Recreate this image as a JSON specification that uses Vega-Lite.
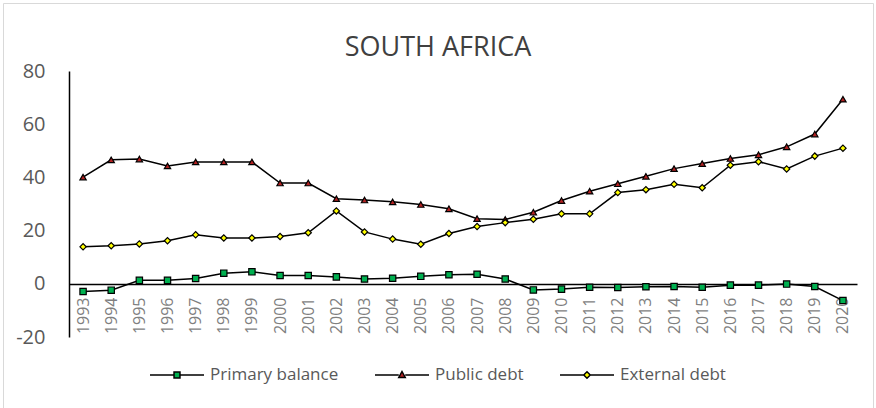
{
  "$schema": "https://vega.github.io/schema/vega-lite/v6.json",
  "width": 870,
  "height": 405,
  "autosize": {"type": "none"},
  "padding": {"left": 3, "top": 3, "right": 3, "bottom": 0},
  "background": "white",
  "config": {"view": {"stroke": "#d9d9d9", "strokeWidth": 1}, "font": "Open Sans"},
  "title": {"text": "SOUTH AFRICA", "anchor": "middle", "frame": "group", "orient": "top", "baseline": "top", "offset": 0, "dy": 59, "fontSize": 27, "font": "Open Sans", "fontWeight": "normal", "color": "#404040"},
  "data": {"values": [
    {"year": "1993", "series": "Primary balance", "value": -2.9},
    {"year": "1994", "series": "Primary balance", "value": -2.4},
    {"year": "1995", "series": "Primary balance", "value": 1.3},
    {"year": "1996", "series": "Primary balance", "value": 1.3},
    {"year": "1997", "series": "Primary balance", "value": 2.0},
    {"year": "1998", "series": "Primary balance", "value": 4.0},
    {"year": "1999", "series": "Primary balance", "value": 4.5},
    {"year": "2000", "series": "Primary balance", "value": 3.1},
    {"year": "2001", "series": "Primary balance", "value": 3.1},
    {"year": "2002", "series": "Primary balance", "value": 2.6},
    {"year": "2003", "series": "Primary balance", "value": 1.8},
    {"year": "2004", "series": "Primary balance", "value": 2.1},
    {"year": "2005", "series": "Primary balance", "value": 2.8},
    {"year": "2006", "series": "Primary balance", "value": 3.4},
    {"year": "2007", "series": "Primary balance", "value": 3.6},
    {"year": "2008", "series": "Primary balance", "value": 1.8},
    {"year": "2009", "series": "Primary balance", "value": -2.3},
    {"year": "2010", "series": "Primary balance", "value": -2.0},
    {"year": "2011", "series": "Primary balance", "value": -1.3},
    {"year": "2012", "series": "Primary balance", "value": -1.4},
    {"year": "2013", "series": "Primary balance", "value": -1.1},
    {"year": "2014", "series": "Primary balance", "value": -1.0},
    {"year": "2015", "series": "Primary balance", "value": -1.3},
    {"year": "2016", "series": "Primary balance", "value": -0.5},
    {"year": "2017", "series": "Primary balance", "value": -0.5},
    {"year": "2018", "series": "Primary balance", "value": -0.1},
    {"year": "2019", "series": "Primary balance", "value": -1.0},
    {"year": "2020", "series": "Primary balance", "value": -6.3},
    {"year": "1993", "series": "Public debt", "value": 40.1},
    {"year": "1994", "series": "Public debt", "value": 46.6},
    {"year": "1995", "series": "Public debt", "value": 46.9},
    {"year": "1996", "series": "Public debt", "value": 44.3},
    {"year": "1997", "series": "Public debt", "value": 45.8},
    {"year": "1998", "series": "Public debt", "value": 45.8},
    {"year": "1999", "series": "Public debt", "value": 45.8},
    {"year": "2000", "series": "Public debt", "value": 37.9},
    {"year": "2001", "series": "Public debt", "value": 37.9},
    {"year": "2002", "series": "Public debt", "value": 32.0},
    {"year": "2003", "series": "Public debt", "value": 31.5},
    {"year": "2004", "series": "Public debt", "value": 30.8},
    {"year": "2005", "series": "Public debt", "value": 29.8},
    {"year": "2006", "series": "Public debt", "value": 28.2},
    {"year": "2007", "series": "Public debt", "value": 24.5},
    {"year": "2008", "series": "Public debt", "value": 24.2},
    {"year": "2009", "series": "Public debt", "value": 26.9},
    {"year": "2010", "series": "Public debt", "value": 31.3},
    {"year": "2011", "series": "Public debt", "value": 34.8},
    {"year": "2012", "series": "Public debt", "value": 37.6},
    {"year": "2013", "series": "Public debt", "value": 40.4},
    {"year": "2014", "series": "Public debt", "value": 43.3},
    {"year": "2015", "series": "Public debt", "value": 45.2},
    {"year": "2016", "series": "Public debt", "value": 47.1},
    {"year": "2017", "series": "Public debt", "value": 48.5},
    {"year": "2018", "series": "Public debt", "value": 51.5},
    {"year": "2019", "series": "Public debt", "value": 56.3},
    {"year": "2020", "series": "Public debt", "value": 69.4},
    {"year": "1993", "series": "External debt", "value": 13.9},
    {"year": "1994", "series": "External debt", "value": 14.3},
    {"year": "1995", "series": "External debt", "value": 15.0},
    {"year": "1996", "series": "External debt", "value": 16.2},
    {"year": "1997", "series": "External debt", "value": 18.4},
    {"year": "1998", "series": "External debt", "value": 17.2},
    {"year": "1999", "series": "External debt", "value": 17.2},
    {"year": "2000", "series": "External debt", "value": 17.8},
    {"year": "2001", "series": "External debt", "value": 19.2},
    {"year": "2002", "series": "External debt", "value": 27.4},
    {"year": "2003", "series": "External debt", "value": 19.5},
    {"year": "2004", "series": "External debt", "value": 16.8},
    {"year": "2005", "series": "External debt", "value": 14.9},
    {"year": "2006", "series": "External debt", "value": 18.9},
    {"year": "2007", "series": "External debt", "value": 21.5},
    {"year": "2008", "series": "External debt", "value": 23.0},
    {"year": "2009", "series": "External debt", "value": 24.3},
    {"year": "2010", "series": "External debt", "value": 26.3},
    {"year": "2011", "series": "External debt", "value": 26.3},
    {"year": "2012", "series": "External debt", "value": 34.3},
    {"year": "2013", "series": "External debt", "value": 35.4},
    {"year": "2014", "series": "External debt", "value": 37.4},
    {"year": "2015", "series": "External debt", "value": 36.1},
    {"year": "2016", "series": "External debt", "value": 44.6},
    {"year": "2017", "series": "External debt", "value": 45.9},
    {"year": "2018", "series": "External debt", "value": 43.2},
    {"year": "2019", "series": "External debt", "value": 48.0},
    {"year": "2020", "series": "External debt", "value": 51.0}
  ]},
  "encoding": {
    "x": {
      "field": "year", "type": "ordinal",
      "scale": {"type": "point", "range": [66, 854], "padding": 0.5},
      "axis": {"orient": "bottom", "offset": -124, "labelAngle": 270, "ticks": false, "tickSize": 0, "labelPadding": 13, "labelFontSize": 16, "labelFont": "Open Sans", "labelColor": "#7f7f7f", "domainColor": "black", "domainWidth": 1.5, "grid": false, "title": null}
    },
    "y": {
      "field": "value", "type": "quantitative",
      "scale": {"domain": [-20, 80], "range": [334, 68], "nice": false, "zero": false},
      "axis": {"orient": "left", "offset": -66, "values": [-20, 0, 20, 40, 60, 80], "labelExpr": "'' + datum.value", "grid": false, "ticks": false, "tickSize": 0, "labelPadding": 24, "labelFontSize": 20, "labelFont": "Open Sans", "labelColor": "#595959", "domainColor": "black", "domainWidth": 1.5, "title": null}
    }
  },
  "layer": [
    {
      "mark": {"type": "line", "stroke": "black", "strokeWidth": 1.5},
      "encoding": {"detail": {"field": "series", "type": "nominal"}}
    },
    {
      "mark": {"type": "point", "filled": true, "stroke": "black", "strokeWidth": 1.2, "opacity": 1, "size": 40},
      "encoding": {
        "shape": {"field": "series", "type": "nominal", "scale": {"domain": ["Primary balance", "Public debt", "External debt"], "range": ["square", "triangle-up", "diamond"]}, "legend": null},
        "fill": {"field": "series", "type": "nominal", "scale": {"domain": ["Primary balance", "Public debt", "External debt"], "range": ["#00b050", "#b22222", "#ffff00"]}, "legend": null}
      }
    },
    {
      "mark": {"type": "point", "filled": true, "opacity": 0},
      "encoding": {
        "shape": {"field": "series", "type": "nominal",
          "scale": {"domain": ["Primary balance", "Public debt", "External debt"], "range": [
            "M-1,0H-0.11M0.11,0H1M-0.11,-0.11H0.11V0.11H-0.11Z",
            "M-1,0H-0.12M0.12,0H1M0,-0.13L0.12,0.09H-0.12Z",
            "M-1,0H-0.12M0.12,0H1M0,-0.12L0.12,0L0,0.12L-0.12,0Z"
          ]},
          "legend": {"orient": "none", "legendX": 146, "legendY": 344, "direction": "horizontal", "title": null, "labelFontSize": 17, "labelFont": "Open Sans", "labelColor": "#595959", "labelOffset": 5, "columnPadding": 33, "symbolSize": 2916, "symbolStrokeWidth": 1.5, "symbolStrokeColor": "black", "padding": 0,
            "encode": {"symbols": {"update": {"opacity": {"value": 1}, "stroke": {"value": "black"}, "strokeWidth": {"value": 1.5}, "size": {"value": 2916}}}}}
        },
        "fill": {"field": "series", "type": "nominal",
          "scale": {"domain": ["Primary balance", "Public debt", "External debt"], "range": ["#00b050", "#b22222", "#ffff00"]},
          "legend": {"orient": "none", "legendX": 146, "legendY": 344, "direction": "horizontal", "title": null, "labelFontSize": 17, "labelFont": "Open Sans", "labelColor": "#595959", "labelOffset": 5, "columnPadding": 33, "symbolSize": 2916, "symbolStrokeWidth": 1.5, "symbolStrokeColor": "black", "padding": 0,
            "encode": {"symbols": {"update": {"opacity": {"value": 1}, "stroke": {"value": "black"}, "strokeWidth": {"value": 1.5}, "size": {"value": 2916}}}}}
        }
      }
    }
  ],
  "resolve": {"scale": {"shape": "independent", "fill": "independent"}}
}
